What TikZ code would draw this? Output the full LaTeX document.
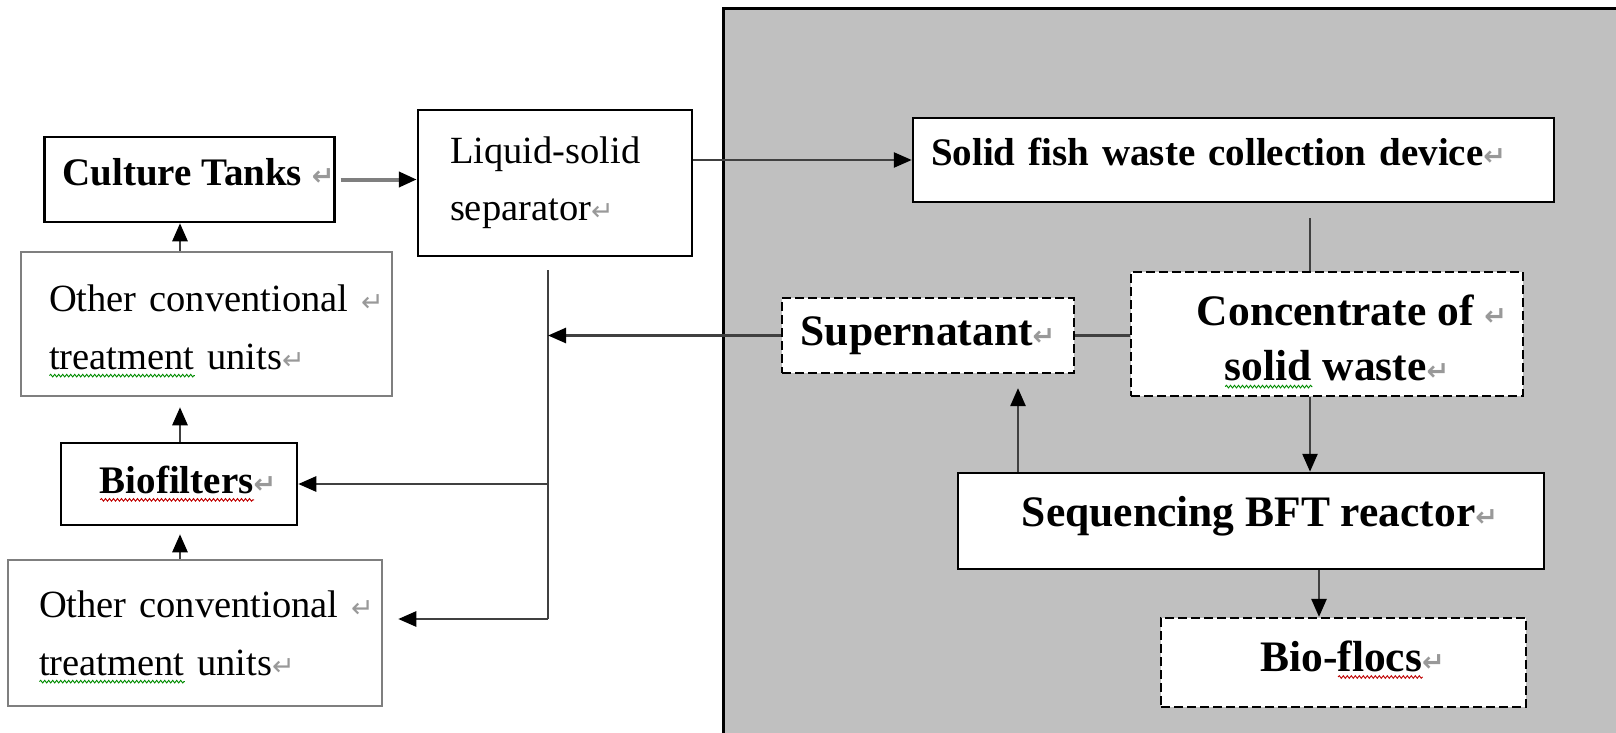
\documentclass[tikz,border=0pt]{standalone}
\usepackage{fontspec}
\setmainfont{Liberation Serif}
\newfontfamily\markfont{DejaVu Sans}
\usetikzlibrary{arrows.meta, decorations.pathmorphing}

\definecolor{panelgray}{HTML}{C0C0C0}
\definecolor{framegray}{HTML}{7F7F7F}
\definecolor{wiregray}{HTML}{404040}

% paragraph mark and spelling squiggle
\newcommand{\ret}{{\markfont\fontsize{27}{27}\selectfont\color{black!40}↵}}
\newsavebox{\spellbox}
\newcommand{\spell}[2]{\sbox{\spellbox}{#2}\mbox{\rlap{\tikz[baseline=0pt]\draw[#1, line width=0.9pt, solid,
    decorate, decoration={snake, amplitude=1.3pt, segment length=4pt}] (0pt,-6pt) -- (\wd\spellbox,-6pt);}\usebox{\spellbox}}}

\begin{document}
\begin{tikzpicture}[x=1pt, y=-1pt,
    box/.style={draw, fill=white, line width=2.5pt, inner sep=0pt},
    plainbox/.style={box, draw=framegray},
    dashbox/.style={box, line width=2.2pt, dash pattern=on 9pt off 4pt},
    norm/.style={font=\fontsize{38.5}{58}\selectfont},
    bold/.style={font=\fontsize{39}{58}\selectfont\bfseries},
    big/.style={font=\fontsize{43.5}{55}\selectfont\bfseries},
    wire/.style={line width=2.6pt, draw=wiregray},
    flow/.style={wire, -{Triangle[length=18pt, width=15pt, color=black]}}]
  \useasboundingbox (0,0) rectangle (1616,733);

  % shaded part of the plant
  \fill[panelgray] (723,9) rectangle (1616,733);
  \draw[line width=3pt] (723,733) -- (723,9) -- (1616,9);

  % water loop
  \node[box, bold, minimum width=287pt, minimum height=85pt, text height=26pt, text depth=14pt]
    (tanks) at (189.5,179.5) {\hspace*{18pt}Culture Tanks \ret};
  \node[box, norm, text width=210pt, inner xsep=32pt, minimum height=146pt, align=left,
    font=\fontsize{38.5}{57}\selectfont]
    (sep) at (555,183) {Liquid-solid\\separator\ret};
  \node[plainbox, norm, text width=315pt, inner xsep=28pt, minimum height=144pt, align=left, text height=41pt]
    (other1) at (206.5,324) {Other conventional\rlap{ \ret}\\\spell{green!55!black}{treatment} units\ret};
  \node[box, bold, minimum width=236pt, minimum height=82pt]
    (bio) at (179,484) {\hspace*{18pt}\spell{red!75!black}{Biofilters}\ret};
  \node[plainbox, norm, text width=312pt, inner xsep=31pt, minimum height=146pt, align=left, text height=35pt]
    (other2) at (195,633) {Other conventional\rlap{ \ret}\\\spell{green!55!black}{treatment} units\ret};

  % solids line
  \node[box, bold, text width=605pt, inner xsep=18pt, minimum height=84pt, align=left,
    text height=27pt, text depth=16pt]
    (fish) at (1233.5,160) {Solid fish waste collection device\ret};
  \node[dashbox, big, minimum width=292pt, minimum height=75pt]
    (super) at (928,335.5) {Supernatant\ret};
  \node[dashbox, big, minimum width=392pt, minimum height=124pt, align=center, text height=101pt]
    (conc) at (1327,334) {\hspace*{50pt}Concentrate of \ret\\\hspace*{20pt}\spell{green!55!black}{solid} waste\ret};
  \node[box, big, minimum width=586pt, minimum height=96pt, text height=29pt, text depth=18pt]
    (bft) at (1251,521) {\hspace*{18pt}Sequencing BFT reactor\ret};
  \node[dashbox, big, minimum width=365pt, minimum height=89pt, text height=29pt, text depth=12pt]
    (flocs) at (1343.5,662.5) {\hspace*{18pt}Bio-\spell{red!75!black}{flocs}\ret};

  % columns and branch points
  \coordinate (lcol) at (180,0);
  \coordinate (rcol) at (1310,0);
  \coordinate (scol) at (1018,0);
  \coordinate (fcol) at (1319,0);
  \coordinate (trunk) at (548,270);
  \coordinate (trunkend) at (548,619);

  \draw[flow, draw=framegray, line width=4pt, shorten <=5pt] (tanks.east) -- (sep.west |- tanks.east);
  \draw[flow] (sep.east |- fish.west) -- (fish.west);
  \draw[wire] (trunk) -- (trunkend);
  \draw[flow] (super.west) -- (trunk |- super.west);
  \draw[flow] (trunk |- bio.east) -- (bio.east);
  \draw[flow] (trunkend) -- ([xshift=15pt]other2.east |- trunkend);
  \draw[flow] (other1.north -| lcol) -- (tanks.south -| lcol);
  \draw[flow] (bio.north -| lcol) -- ([yshift=-10pt]other1.south -| lcol);
  \draw[flow] (other2.north -| lcol) -- ([yshift=-8pt]bio.south -| lcol);

  \draw[wire] ([yshift=-15pt]fish.south -| rcol) -- (conc.north -| rcol);
  \draw[wire] (super.east) -- (conc.west |- super.east);
  \draw[flow] (conc.south -| rcol) -- (bft.north -| rcol);
  \draw[flow] (bft.north -| scol) -- ([yshift=-14pt]super.south -| scol);
  \draw[flow] (bft.south -| fcol) -- (flocs.north -| fcol);
\end{tikzpicture}
\end{document}
